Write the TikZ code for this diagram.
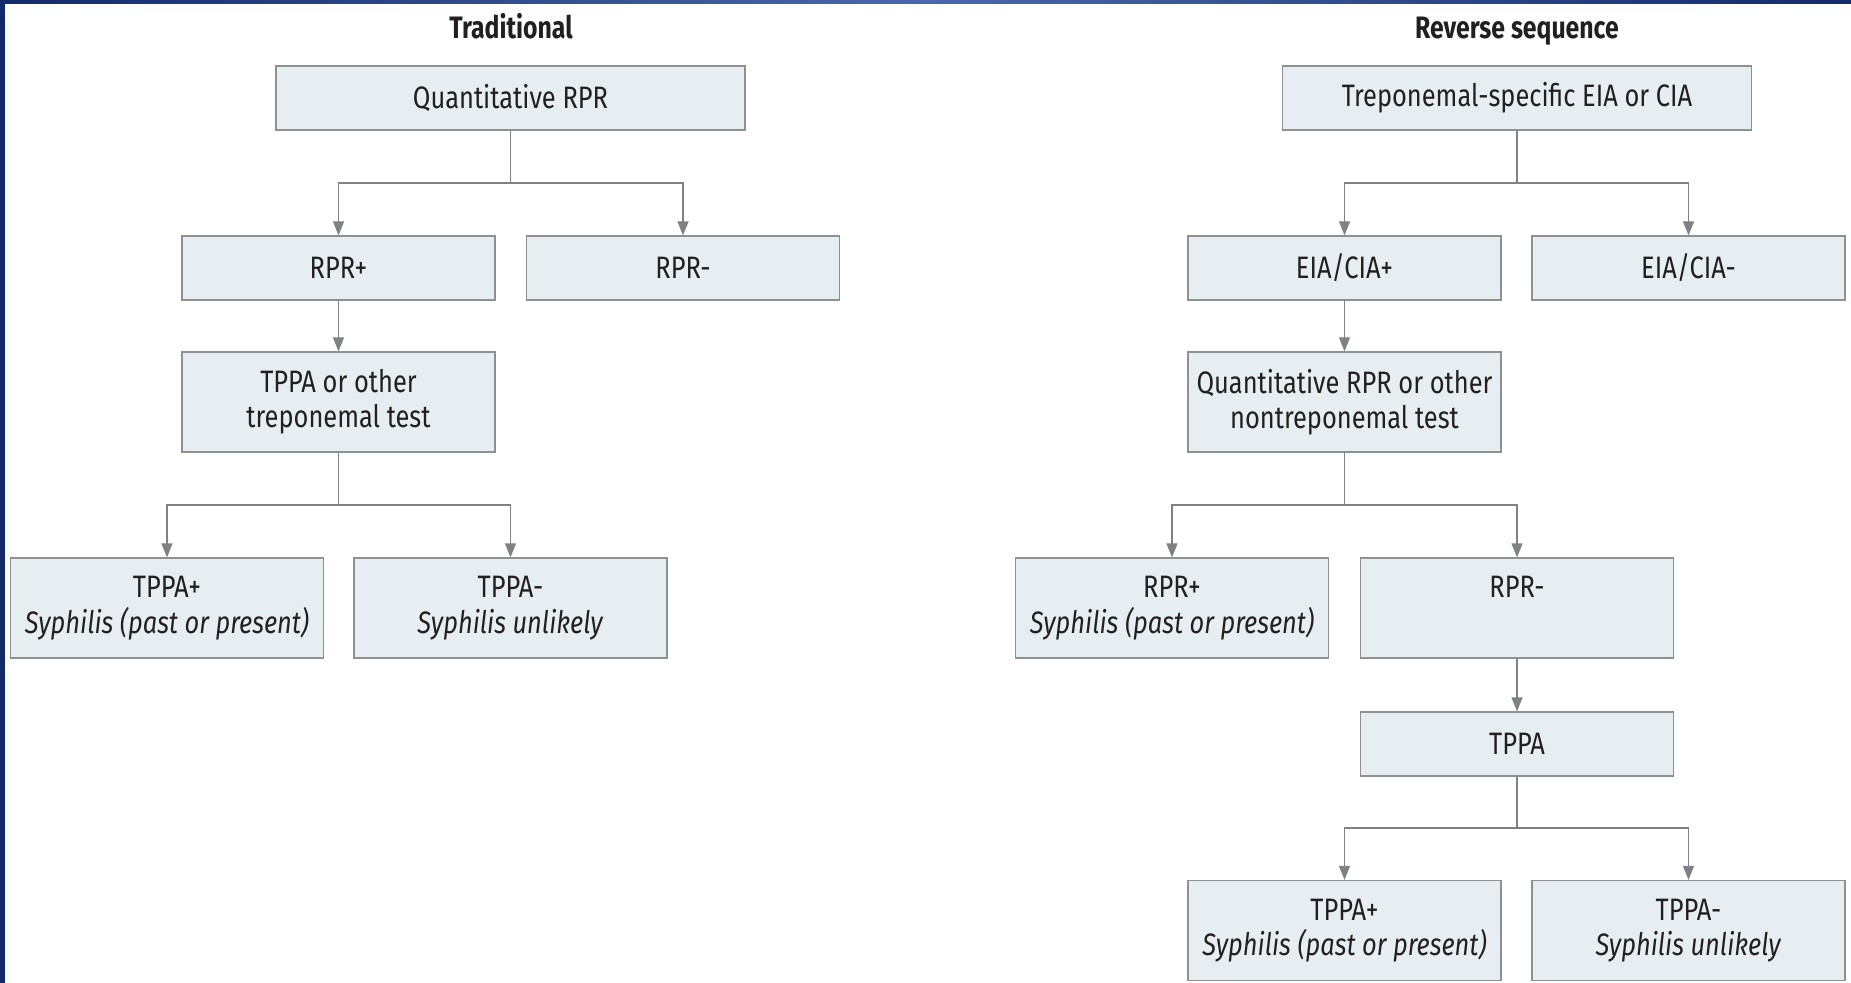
\documentclass[tikz,border=0pt]{standalone}
\usepackage{fontspec}
\setmainfont{Fira Sans}[FakeStretch=0.82]
\usetikzlibrary{arrows.meta}
\definecolor{boxfill}{HTML}{E7EEF2}
\definecolor{boxline}{HTML}{8E9094}
\definecolor{arrgray}{HTML}{808184}
\definecolor{txt}{HTML}{231F20}
\definecolor{navy}{HTML}{132B6B}
\definecolor{barblue}{HTML}{4A68AD}
\tikzset{
  kasten/.style={draw=boxline,line width=0.6pt,fill=boxfill,text=txt,align=center,
    minimum width=156.5pt,minimum height=32pt,inner sep=0pt,font=\fontsize{15.5}{17.7}\selectfont},
  hoch/.style={minimum height=50pt},
  breit/.style={minimum width=234.5pt},
  titel/.style={text=txt,anchor=base,font=\fontsize{15.5}{18}\selectfont\bfseries\addfontfeature{FakeStretch=0.8}},
  linie/.style={draw=arrgray,line width=0.6pt},
  pfeil/.style={linie,-{Triangle[width=5.5pt,length=7pt]}}
}
\begin{document}
\begin{tikzpicture}[x=0.5pt,y=-0.5pt]
\useasboundingbox (0,0) rectangle (1851,983);
\fill[navy] (0,0) rectangle (5,983); %Rand links
\shade[left color=navy,right color=navy,middle color=barblue] (0,0) rectangle (1851,4); %Rand oben

%Traditional
\node[titel] (tit1) at (511,39) {Traditional};
\node[kasten,breit] (qrpr) at (510.5,98) {Quantitative RPR};
\node[kasten] (rprpos) at (338.5,268) {RPR+};
\node[kasten] (rprneg) at (683,268) {RPR-};
\node[kasten,hoch] (tppaoth) at (338.5,402) {TPPA or other\\treponemal test};
\node[kasten,hoch] (tppapos) at (167,608) {TPPA+\\\textit{Syphilis (past or present)}};
\node[kasten,hoch] (tppaneg) at (510.5,608) {TPPA-\\\textit{Syphilis unlikely}};
\coordinate (s1) at (510.5,183);
\coordinate (s2) at (338.5,505);
\draw[linie] (qrpr) -- (s1);
\draw[pfeil] (s1) -| (rprpos);
\draw[pfeil] (s1) -| (rprneg);
\draw[pfeil] (rprpos) -- (tppaoth);
\draw[linie] (tppaoth) -- (s2);
\draw[pfeil] (s2) -| (tppapos);
\draw[pfeil] (s2) -| (tppaneg);

%Reverse sequence
\node[titel] (tit2) at (1517,39) {Reverse sequence};
\node[kasten,breit] (trep) at (1517,98) {Treponemal-specific EIA or CIA};
\node[kasten] (eiapos) at (1344.5,268) {EIA/CIA+};
\node[kasten] (eianeg) at (1688.5,268) {EIA/CIA-};
\node[kasten,hoch] (qrpoth) at (1344.5,402) {Quantitative RPR or other\\nontreponemal test};
\node[kasten,hoch] (rprpos2) at (1172,608) {RPR+\\\textit{Syphilis (past or present)}};
\node[kasten,hoch] (rprneg2) at (1517,608) {RPR-\\\phantom{Syphilis}};
\node[kasten] (tppa) at (1517,744) {TPPA};
\node[kasten,hoch] (tppapos2) at (1344.5,930.5) {TPPA+\\\textit{Syphilis (past or present)}};
\node[kasten,hoch] (tppaneg2) at (1688.5,930.5) {TPPA-\\\textit{Syphilis unlikely}};
\coordinate (s3) at (1517,183);
\coordinate (s4) at (1344.5,505);
\coordinate (s5) at (1517,828);
\draw[linie] (trep) -- (s3);
\draw[pfeil] (s3) -| (eiapos);
\draw[pfeil] (s3) -| (eianeg);
\draw[pfeil] (eiapos) -- (qrpoth);
\draw[linie] (qrpoth) -- (s4);
\draw[pfeil] (s4) -| (rprpos2);
\draw[pfeil] (s4) -| (rprneg2);
\draw[pfeil] (rprneg2) -- (tppa);
\draw[linie] (tppa) -- (s5);
\draw[pfeil] (s5) -| (tppapos2);
\draw[pfeil] (s5) -| (tppaneg2);
\end{tikzpicture}
\end{document}
